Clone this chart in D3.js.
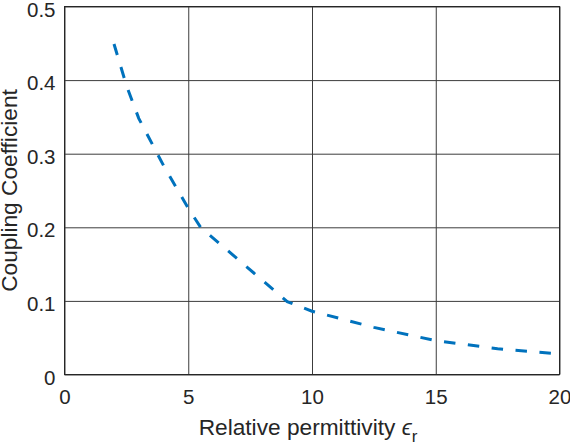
<!DOCTYPE html>
<html>
<head>
<meta charset="utf-8">
<script src="https://cdn.jsdelivr.net/npm/d3@7"></script>
<style>
  body { margin: 0; background: #fff; }
  text { font-family: "Liberation Sans", Arial, Helvetica, sans-serif; fill: #262626; }
</style>
</head>
<body>
<script>
// values
const permittivity = [2, 2.5, 3, 4, 5, 5.5, 9, 10, 12.5, 15, 17.5, 20]
const coupling = [0.449, 0.393, 0.348, 0.284, 0.226, 0.2, 0.099, 0.086, 0.064, 0.046, 0.035, 0.028]
const xTicks = [0, 5, 10, 15, 20]
const yTicks = [0, 0.1, 0.2, 0.3, 0.4, 0.5]

const W = 570, H = 446
const plotLeft = 64.5, plotRight = 559.5, plotTop = 6.5, plotBottom = 374.5

const svg = d3.select('body').append('svg')
    .attr('width', W).attr('height', H)
    .attr('xmlns', 'http://www.w3.org/2000/svg')

const x = d3.scaleLinear().domain([0, 20]).range([plotLeft, plotRight])
const y = d3.scaleLinear().domain([0, 0.5]).range([plotBottom, plotTop])

// grid
svg.append('g')
    .attr('transform', `translate(0, ${plotBottom})`)
    .call(d3.axisBottom(x).tickValues(xTicks).tickSize(-(plotBottom - plotTop)).tickFormat(''))
    .call(g => g.select('.domain').remove())
    .call(g => g.selectAll('line').attr('stroke', '#3c3c3c').attr('stroke-width', 1))

svg.append('g')
    .attr('transform', `translate(${plotLeft}, 0)`)
    .call(d3.axisLeft(y).tickValues(yTicks).tickSize(-(plotRight - plotLeft)).tickFormat(''))
    .call(g => g.select('.domain').remove())
    .call(g => g.selectAll('line').attr('stroke', '#3c3c3c').attr('stroke-width', 1))

// tick labels
svg.append('g')
    .attr('transform', `translate(0, ${plotBottom})`)
    .call(d3.axisBottom(x).tickValues(xTicks).tickSize(0).tickPadding(15).tickFormat(d3.format('d')))
    .call(g => g.select('.domain').remove())
    .call(g => g.selectAll('text').attr('font-size', 20.5).attr('font-family', null).style('fill', '#262626'))

svg.append('g')
    .attr('transform', `translate(${plotLeft}, 0)`)
    .call(d3.axisLeft(y).tickValues(yTicks).tickSize(0).tickPadding(9).tickFormat(d => d === 0 ? '0' : d3.format('.1f')(d)))
    .call(g => g.select('.domain').remove())
    .call(g => g.selectAll('text').attr('font-size', 20.5).attr('font-family', null).attr('dy', '0.47em').style('fill', '#262626'))

// box
svg.append('rect')
    .attr('x', plotLeft).attr('y', plotTop)
    .attr('width', plotRight - plotLeft).attr('height', plotBottom - plotTop)
    .attr('fill', 'none').attr('stroke', '#262626').attr('stroke-width', 1)

// curve
const line = d3.line().x((d, i) => x(permittivity[i])).y(d => y(d))
svg.append('path')
    .datum(coupling)
    .attr('d', line)
    .attr('fill', 'none')
    .attr('stroke', '#0072BD')
    .attr('stroke-width', 3)
    .attr('stroke-dasharray', '11.5,12.5')

// axis labels
const xl = svg.append('text')
    .attr('x', 308)
    .attr('y', 435)
    .attr('text-anchor', 'middle')
    .attr('font-size', 22.7)
xl.append('tspan').text('Relative permittivity ')
xl.append('tspan').attr('font-style', 'italic').text('\u03F5')
xl.append('tspan').attr('dy', 7).attr('font-size', 17).text('r')

svg.append('text')
    .attr('transform', `translate(17, ${(plotTop + plotBottom) / 2}) rotate(-90)`)
    .attr('text-anchor', 'middle')
    .attr('font-size', 22.7)
    .text('Coupling Coefficient')
</script>
</body>
</html>
